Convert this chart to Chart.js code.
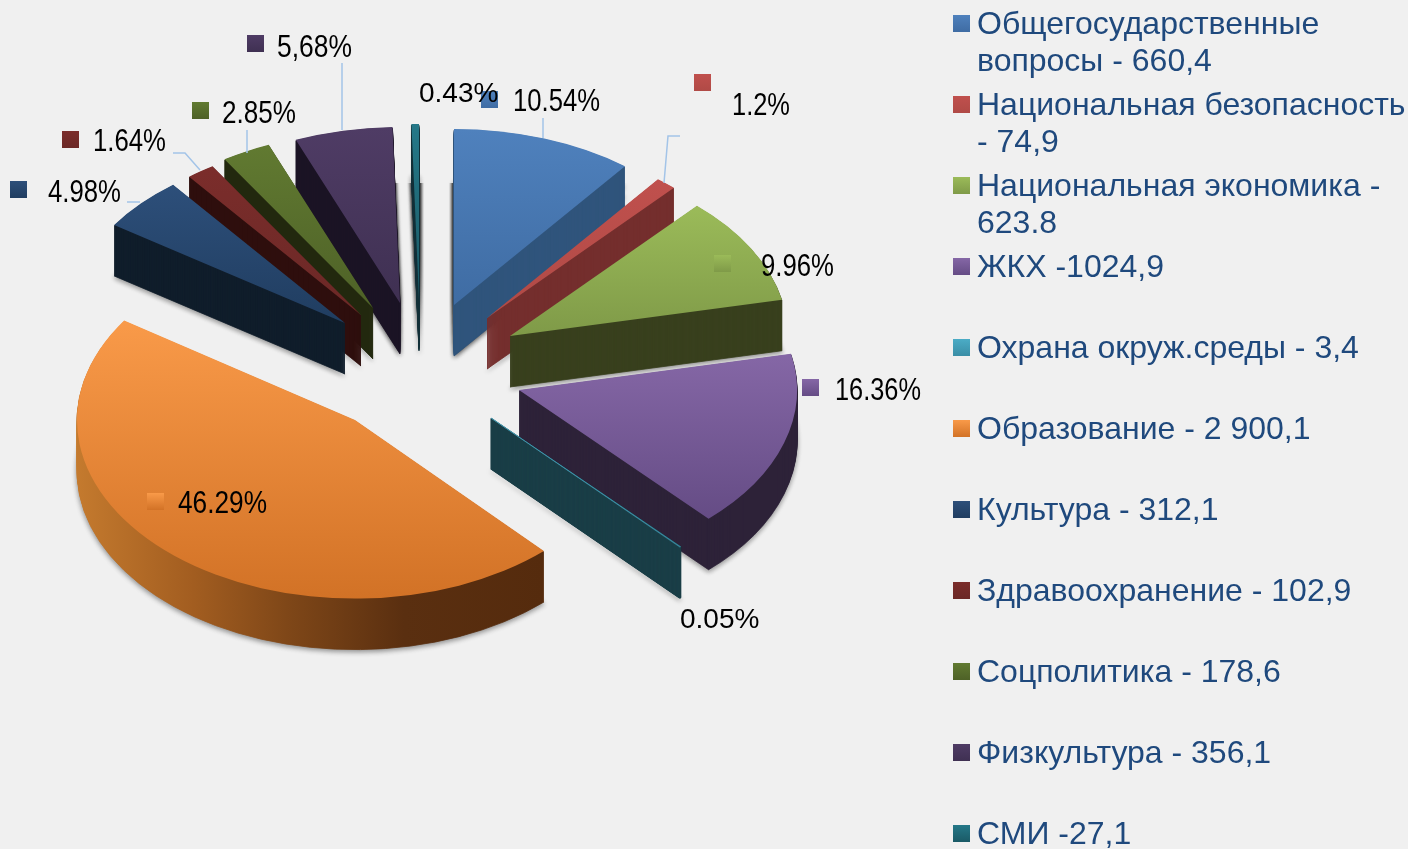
<!DOCTYPE html>
<html lang="ru">
<head>
<meta charset="utf-8">
<style>
html,body{margin:0;padding:0;background:#f0f0f0;overflow:hidden}
canvas{display:block}
</style>
<script src="https://cdn.jsdelivr.net/npm/chart.js@4"></script>
</head>
<body>
<canvas id="c" width="1408" height="849"></canvas>
<script>
// ---- data ----
const categories = ["Общегосударственные", "Национальная безопасность", "Национальная экономика", "ЖКХ", "Охрана окруж.среды", "Образование", "Культура", "Здравоохранение", "Соцполитика", "Физкультура", "СМИ"];
const values = [660.4, 74.9, 623.8, 1024.9, 3.4, 2900.1, 312.1, 102.9, 178.6, 356.1, 27.1];
const percentLabels = ["10.54%", "1.2%", "9.96%", "16.36%", "0.05%", "46.29%", "4.98%", "1.64%", "2.85%", "5,68%", "0.43%"];
const legendLines = [
  ["Общегосударственные", "вопросы - 660,4"],
  ["Национальная безопасность", "- 74,9"],
  ["Национальная экономика -", "623.8"],
  ["ЖКХ -1024,9"],
  ["Охрана окруж.среды - 3,4"],
  ["Образование - 2 900,1"],
  ["Культура - 312,1"],
  ["Здравоохранение - 102,9"],
  ["Соцполитика - 178,6"],
  ["Физкультура - 356,1"],
  ["СМИ -27,1"]
];
// ---- styling ----
const topColors = [["#4f81bd","#3f6ca3"],["#c0504d","#b04a46"],["#9bbb59","#7f9a48"],["#8567a6","#654c85"],["#4bacc6","#3a8ea6"],["#f99a49","#d27226"],["#2d4f7a","#203d60"],["#7b2d2b","#6b2826"],["#617a31","#4e6127"],["#4f3c65","#3f3052"],["#257888","#1a5a66"]];
const wallColors = ["#30547c","#742e2d","#38401d","#2d2239","#1b3f48",null,"#101d2b","#2e0f0d","#22290f","#1b1425","#123038"];
const orangeWallStops = [[0,"#c47a2e"],[0.25,"#a25d20"],[0.45,"#7f4718"],[0.7,"#5a2f10"],[1,"#552b0d"]];
const explodeX = [44, 77, 100, 109, 81, -55, -65, -49, -37, -10, 9];
const explodeY = [-65, -52, -34, 20, 48, 50, -47, -55, -62, -67, -70];
const sliceScaleY = [1, 1, 1, 1, 1, 1.015, 1, 1, 1, 1, 1];
const squash = 0.633, depth = 51, pieRadius = 278;
const castShadowSlices = [0, 9, 10], castShadowTop = 183;
const labelX = [513, 732, 761, 835, 680, 178, 48, 93, 222, 277, 419];
const labelY = [111, 115, 276, 400, 628, 513, 202, 151, 123, 57, 102];
const labelW = [87, 58, 73, 86, 80, 89, 73, 73, 74, 75, 81];
const labelFont = [32, 32, 32, 32, 28, 32, 32, 32, 32, 32, 28];
const keyX = [481, 694, 714, 802, null, 147, 10, 62, 192, 247, null];
const keyY = [91, 74, 255, 379, null, 493, 181, 131, 102, 35, null];
const leaders = [
  [[543,118],[543,138]],
  [[680,136],[668,136],[664,183]],
  [[342,63],[342,130]],
  [[247,130],[247,153]],
  [[173,153],[185,153],[200,170]],
  [[127,202],[140,202]]
];
const legendY = [15, 96, 177, 258, 339, 420, 501, 582, 663, 744, 825];

function gradientFor(ctx, el, stops) {
  const a0 = el.startAngle, a1 = el.endAngle, r = pieRadius;
  const ys = [el.y, el.y + Math.sin(a0) * r, el.y + Math.sin(a1) * r];
  if (a0 < Math.PI / 2 && a1 > Math.PI / 2) ys.push(el.y + r);
  if (a0 < 3 * Math.PI / 2 && a1 > 3 * Math.PI / 2) ys.push(el.y - r);
  const g = ctx.createLinearGradient(0, Math.min(...ys), 0, Math.max(...ys));
  g.addColorStop(0, stops[0]); g.addColorStop(1, stops[1]);
  return g;
}
function drawArc(ctx, el, color, border, shadow) {
  const orig = el.options;
  el.options = Object.assign({}, orig, {backgroundColor: color, borderColor: color, borderWidth: border});
  if (shadow) { ctx.shadowColor = shadow.color; ctx.shadowBlur = shadow.blur; ctx.shadowOffsetY = shadow.y; }
  el.draw(ctx);
  if (shadow) { ctx.shadowColor = "transparent"; ctx.shadowBlur = 0; ctx.shadowOffsetY = 0; }
  el.options = orig;
}

const pie3d = {
  id: "pie3d",
  beforeDatasetsDraw(chart) {
    const ctx = chart.ctx, arcs = chart.getDatasetMeta(0).data;
    const order = arcs.map((el, i) => i).sort((a, b) =>
      Math.sin((arcs[a].startAngle + arcs[a].endAngle) / 2) - Math.sin((arcs[b].startAngle + arcs[b].endAngle) / 2));
    order.forEach(i => {
      const el = arcs[i], sy = squash * sliceScaleY[i];
      const place = () => {
        ctx.translate(el.x + explodeX[i], el.y + explodeY[i]);
        ctx.scale(1, sy);
        ctx.translate(-el.x, -el.y);
      };
      ctx.save();
      if (castShadowSlices.includes(i)) {
        ctx.save();
        ctx.beginPath();
        ctx.rect(0, castShadowTop, chart.width, chart.height - castShadowTop);
        ctx.clip();
        place();
        for (let d = depth; d >= 0; d -= 10) {
          ctx.save();
          ctx.translate(0, d / sy);
          drawArc(ctx, el, "#888", 0, {color: "rgba(0,0,0,0.55)", blur: 5, y: 0});
          ctx.restore();
        }
        ctx.restore();
      }
      place();
      let wall = wallColors[i];
      if (!wall) {
        wall = ctx.createLinearGradient(el.x - pieRadius, 0, el.x + 0.68 * pieRadius, 0);
        orangeWallStops.forEach(q => wall.addColorStop(q[0], q[1]));
      }
      const thin = i === 4;
      const step = thin ? 0.25 : 1;
      for (let d = depth; d >= step; d -= step) {
        ctx.save();
        ctx.translate(0, d / sy);
        drawArc(ctx, el, wall, thin ? 1.6 : 1, d === depth ? {color: "rgba(0,0,0,0.4)", blur: 5, y: 2} : null);
        ctx.restore();
      }
      drawArc(ctx, el, gradientFor(ctx, el, topColors[i]), thin ? 0.7 : 0, null);
      ctx.restore();
    });
    return false;
  },
  afterDraw(chart) {
    const ctx = chart.ctx;
    ctx.save();
    // leader lines
    ctx.strokeStyle = "#a3c4e8"; ctx.lineWidth = 1.5;
    leaders.forEach(p => {
      ctx.beginPath();
      p.forEach((q, j) => j ? ctx.lineTo(q[0], q[1]) : ctx.moveTo(q[0], q[1]));
      ctx.stroke();
    });
    const keyBox = (x, y, s, c) => {
      const g = ctx.createLinearGradient(0, y, 0, y + s);
      g.addColorStop(0, c[0]); g.addColorStop(1, c[1]);
      ctx.fillStyle = g; ctx.fillRect(x, y, s, s);
    };
    // percent labels
    ctx.textBaseline = "alphabetic"; ctx.textAlign = "left";
    percentLabels.forEach((t, i) => {
      ctx.fillStyle = "#000";
      ctx.font = labelFont[i] + 'px "Liberation Sans"';
      ctx.fillText(t, labelX[i], labelY[i], labelW[i]);
      if (keyX[i] !== null) keyBox(keyX[i], keyY[i], 17, topColors[i]);
    });
    // legend
    ctx.font = '32px "Liberation Sans"';
    legendLines.forEach((lines, i) => {
      keyBox(953, legendY[i], 17, topColors[i]);
      ctx.fillStyle = "#1f497d";
      lines.forEach((t, j) => ctx.fillText(t, 977, legendY[i] + 19 + j * 37));
    });
    ctx.restore();
  }
};

new Chart(document.getElementById("c"), {
  type: "pie",
  data: { labels: categories, datasets: [{ data: values, backgroundColor: topColors.map(c => c[0]), borderWidth: 0 }] },
  options: {
    responsive: false,
    animation: false,
    events: [],
    radius: pieRadius,
    layout: { padding: { right: 588, bottom: 109 } },
    plugins: { legend: { display: false }, tooltip: { enabled: false } }
  },
  plugins: [pie3d]
});
</script>
</body>
</html>
